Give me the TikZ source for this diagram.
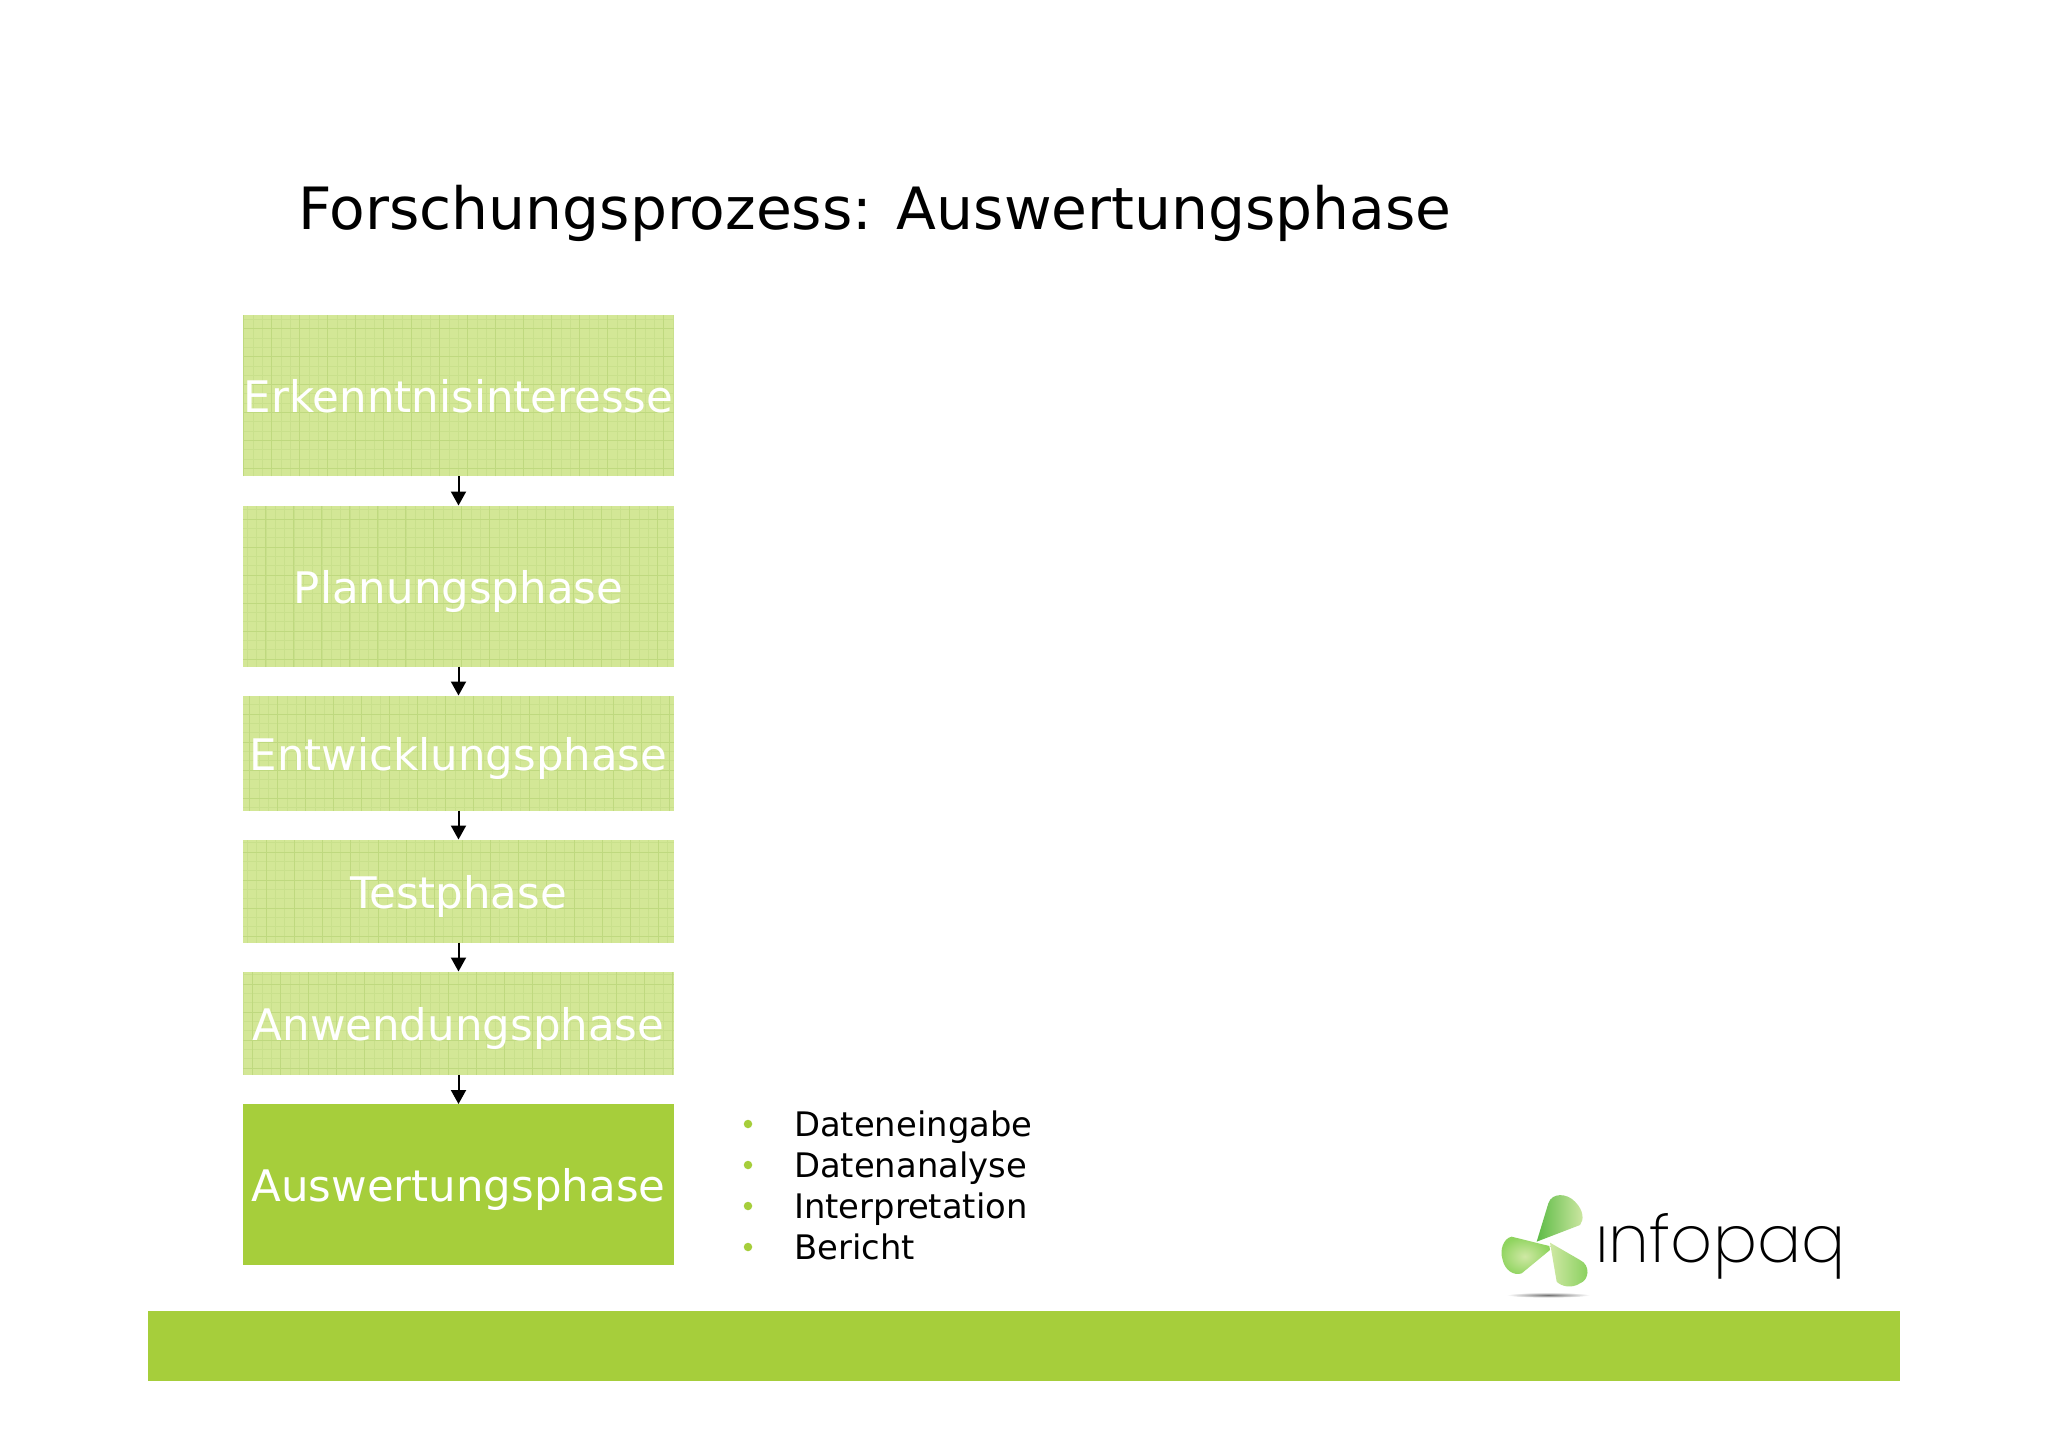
\documentclass[tikz,border=0pt]{standalone}
\usepackage{fontspec}
\setmainfont{DejaVu Sans}
\newfontfamily\logofont{Poppins}[UprightFont=* ExtraLight]
\usetikzlibrary{arrows.meta}
\definecolor{barg}{HTML}{A6CE3B}
\definecolor{boxl}{HTML}{D3E796}
\definecolor{gridminor}{HTML}{C9E08C}
\definecolor{gridmajor}{HTML}{BFD97F}
\definecolor{logoa}{HTML}{5DBB46}
\definecolor{logob}{HTML}{8FD45F}
\definecolor{logoc}{HTML}{CFE8A4}
\tikzset{
  x=1pt,y=-1pt,
  phase/.style={minimum width=431pt,inner sep=0pt,outer sep=0pt,text=white,font=\fontsize{43.5}{48}\selectfont,text height=40pt,text depth=6pt},
  tex/.style={phase,fill=boxl,path picture={
    \draw[gridminor,line width=0.7pt] (path picture bounding box.south west) grid[step=9.33pt] (path picture bounding box.north east);
    \draw[gridmajor,line width=0.8pt] (path picture bounding box.south west) grid[step=28pt] (path picture bounding box.north east);}},
  active/.style={phase,fill=barg},
  flow/.style={-{Triangle[length=14pt,width=15pt]},line width=2pt,black},
  item/.style={anchor=base west,inner sep=0pt,font=\fontsize{33.8}{40}\selectfont,text=black},
  dot/.style={circle,fill=barg,inner sep=0pt,minimum size=8.5pt},
}
\begin{document}
\begin{tikzpicture}
\useasboundingbox (0,0) rectangle (2048,1448);
\fill[white] (0,0) rectangle (2048,1448);
\node[anchor=base west,inner sep=0pt,font=\fontsize{58.3}{66}\selectfont] (title) at (298,229) {Forschungsprozess: Auswertungsphase};
\node[tex,minimum height=161pt] (p1) at (458.5,395.5) {Erkenntnisinteresse};
\node[tex,minimum height=161pt] (p2) at (458.5,586) {Planungsphase};
\node[tex,minimum height=115pt] (p3) at (458.5,753) {Entwicklungsphase};
\node[tex,minimum height=103pt] (p4) at (458.5,891) {Testphase};
\node[tex,minimum height=103pt] (p5) at (458.5,1023) {Anwendungsphase};
\node[active,minimum height=161pt] (p6) at (458.5,1184.5) {Auswertungsphase};
\foreach \a/\b in {p1/p2,p2/p3,p3/p4,p4/p5,p5/p6}
  \draw[flow] (\a.south) -- (\b.north);
\node[dot] (b1) at (748,1124) {};
\node[dot] (b2) at (748,1165) {};
\node[dot] (b3) at (748,1206) {};
\node[dot] (b4) at (748,1247) {};
\node[item] (t1) at (794,1136) {Dateneingabe};
\node[item] (t2) at (794,1177) {Datenanalyse};
\node[item] (t3) at (794,1218) {Interpretation};
\node[item] (t4) at (794,1259) {Bericht};
\fill[barg] (148,1311) rectangle (1900,1381);
% logo
\begin{scope}[shift={(1480,1170)},x=0.33333pt,y=-0.33333pt]
  \shade[inner color=black!55,outer color=white] (205,375) ellipse [x radius=125,y radius=8];
  \shade[shading angle=150,left color=logoa,middle color=logob,right color=logoc]
    (170,215) -- (205,100) .. controls (215,68) and (260,68) .. (285,95) .. controls (312,122) and (312,150) .. (300,165) -- cycle;
  \shade[inner color=logoc,outer color=logob]
    (208,228) -- (95,200) .. controls (70,205) and (58,240) .. (68,270) .. controls (75,300) and (100,318) .. (125,310) -- (210,240) -- cycle;
  \shade[shading angle=60,left color=logoc,middle color=logoc!70!logob,right color=logob!80!logoa]
    (210,218) -- (300,270) .. controls (332,285) and (328,330) .. (300,340) .. controls (275,356) and (245,350) .. (230,335) -- cycle;
  \node[anchor=base west,inner sep=0pt,font=\logofont\fontsize{65.5}{70}\selectfont] (logo) at (345,278) {ınfopaq};
\end{scope}
\end{tikzpicture}
\end{document}
